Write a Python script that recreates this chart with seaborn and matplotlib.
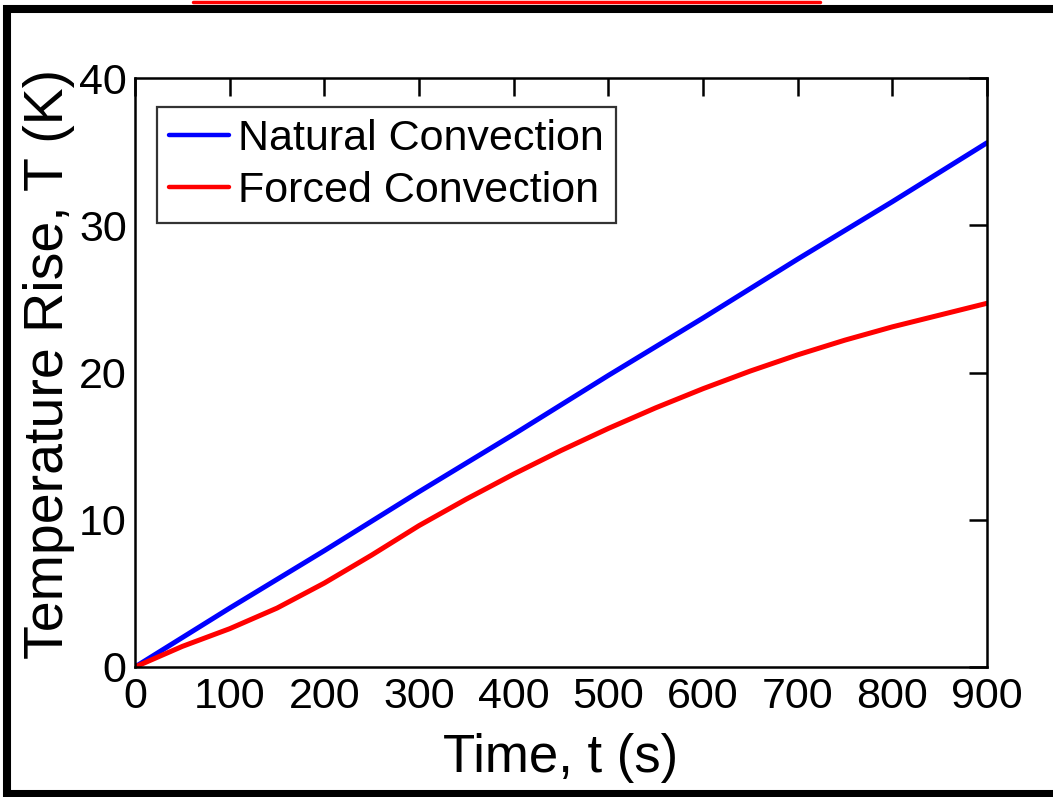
import numpy as np
import pandas as pd
import seaborn as sns
import matplotlib.pyplot as plt
from matplotlib.patches import Rectangle
from matplotlib.lines import Line2D

# values
time_nat = [0, 100, 200, 300, 400, 500, 600, 700, 800, 900]
temp_nat = [0, 4.0, 7.9, 11.9, 15.8, 19.8, 23.7, 27.7, 31.6, 35.6]
time_forced = [0, 50, 100, 150, 200, 250, 300, 350, 400, 450, 500, 550, 600, 650, 700, 750, 800, 850, 900]
temp_forced = [0, 1.4, 2.6, 4.0, 5.7, 7.6, 9.6, 11.4, 13.1, 14.7, 16.2, 17.6, 18.9, 20.1, 21.2, 22.2, 23.1, 23.9, 24.7]
labels = ['Natural Convection', 'Forced Convection']
xticks = list(range(0, 1000, 100))
yticks = [0, 10, 20, 30, 40]

sns.set_style('white')
plt.rcParams['font.family'] = ['Liberation Sans', 'DejaVu Sans']
plt.rcParams['text.color'] = 'black'
plt.rcParams['axes.labelcolor'] = 'black'

W, H = 1053, 797
fig = plt.figure(figsize=(W / 100, H / 100), dpi=100)
ax = fig.add_axes([135 / W, 1 - 667 / H, (987 - 135) / W, (667 - 78) / H])

df_nat = pd.DataFrame({'t': time_nat, 'T': temp_nat})
df_forced = pd.DataFrame({'t': time_forced, 'T': temp_forced})
sns.lineplot(data=df_nat, x='t', y='T', color='#0000ff', lw=3.6, label=labels[0], ax=ax)
sns.lineplot(data=df_forced, x='t', y='T', color='#ff0000', lw=3.6, label=labels[1], ax=ax)

ax.set_xlim(0, 900)
ax.set_ylim(0, 40)
ax.set_xticks(xticks)
ax.set_yticks(yticks)
ax.tick_params(direction='in', length=13, width=1.8, labelsize=31, pad=7,
               top=True, right=True, colors='black')
ax.tick_params(axis='y', pad=6)
for sp in ax.spines.values():
    sp.set_linewidth(1.8)
    sp.set_color('black')
ax.set_xlabel('Time, t (s)', fontsize=38, labelpad=12)
ax.set_ylabel('Temperature Rise, T (K)', fontsize=40)
ax.yaxis.set_label_coords(-0.071, 0.515)

leg = ax.legend(loc='upper left', bbox_to_anchor=(157 / W, 1 - 107 / H),
                bbox_transform=fig.transFigure, borderaxespad=0, fontsize=31,
                frameon=True, fancybox=False, framealpha=1, handlelength=1.4,
                handletextpad=0.2, labelspacing=0.28, borderpad=0.28)
leg.get_frame().set_edgecolor('#333333')
leg.get_frame().set_linewidth(1.6)
for txt in leg.get_texts():
    txt.set_color('black')
for h in leg.get_lines():
    h.set_linewidth(3.2)

# black frame around the picture and red line above it
fig.patches.append(Rectangle((7 / W, -0.5), 2, (1 - 9 / H) + 0.5, transform=fig.transFigure,
                             fill=False, edgecolor='black', lw=5.8, zorder=10))
fig.patches.append(Rectangle((0, 0), 1, 1 - 795 / H, transform=fig.transFigure,
                             facecolor='white', edgecolor='none', zorder=9))
fig.lines.append(Line2D([7 / W, 2], [1 - 794 / H, 1 - 794 / H], transform=fig.transFigure,
                        color='black', lw=5.8, zorder=10))
fig.lines.append(Line2D([193 / W, 820 / W], [1 - 1.5 / H, 1 - 1.5 / H], transform=fig.transFigure,
                        color='#ff0000', lw=2.5, zorder=10))

fig.savefig('out.png', dpi=100)
